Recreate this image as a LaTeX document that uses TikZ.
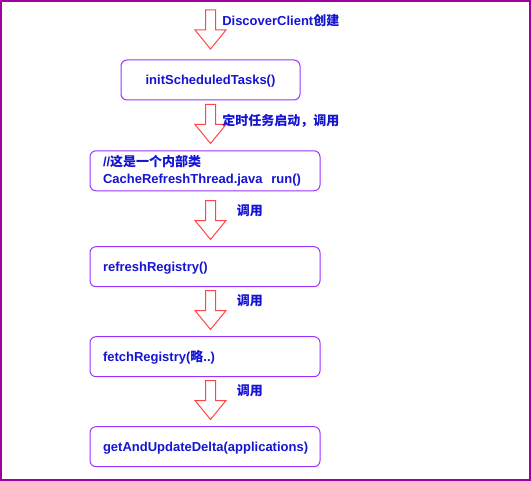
\documentclass[tikz,border=0pt]{standalone}
\usepackage{fontspec}
\setmainfont{Liberation Sans}
\newfontfamily\cjk{Noto Sans CJK SC}
\definecolor{framevio}{RGB}{160,0,160}
\definecolor{boxvio}{RGB}{153,51,255}
\definecolor{txtblue}{RGB}{20,20,210}
\definecolor{arrred}{RGB}{255,70,70}
\newcommand{\flowfont}{\bfseries\fontsize{9.75}{12.5}\selectfont}
\tikzset{
  box/.style={draw=boxvio, rounded corners=4.5pt, line width=0.75pt, minimum height=30pt, text=txtblue, font=\flowfont},
  widebox/.style={box, text width=153pt, inner xsep=9.75pt, align=left},
  onerow/.style={text height=9pt, text depth=2.5pt},
  lbl/.style={anchor=west, inner sep=0pt, text=txtblue, font=\flowfont},
  pics/downarr/.style={code={
    \draw[draw=arrred, line width=0.75pt, fill=white]
      (-5,0) -- (-5,20) -- (-15.5,20) -- (0,39) -- (15.5,20) -- (5,20) -- (5,0) -- cycle;
  }}
}
\begin{document}
\begin{tikzpicture}[x=0.75pt,y=-0.75pt]
\useasboundingbox (0,0) rectangle (531,481);
\draw[framevio, line width=1.5pt] (1,1) rectangle (530,480);

% step 1
\pic at (210.5,10) {downarr};
\node[lbl] (create) at (222,21) {DiscoverClient{\cjk 创建}};
\node[box, onerow, minimum width=134.25pt] (init) at (210.5,80) {initScheduledTasks()};

% step 2
\pic at (210.5,104.5) {downarr};
\node[lbl] (timer) at (222,121) {\cjk 定时任务启动，调用};
\node[widebox] (thread) at (205,170.8) {//{\cjk 这是一个内部类}\\CacheRefreshThread.java\ \ run()};

% step 3
\pic at (210.5,200.5) {downarr};
\node[lbl] (callA) at (236.7,211) {\cjk 调用};
\node[widebox, onerow] (refresh) at (205,266.7) {refreshRegistry()};

% step 4
\pic at (210.5,290.5) {downarr};
\node[lbl] (callB) at (236.7,300.5) {\cjk 调用};
\node[widebox, onerow] (fetch) at (205,356.7) {fetchRegistry({\cjk 略}..)};

% step 5
\pic at (210.5,380.5) {downarr};
\node[lbl] (callC) at (236.7,391) {\cjk 调用};
\node[widebox, onerow] (delta) at (205,446.7) {getAndUpdateDelta(applications)};
\end{tikzpicture}
\end{document}
